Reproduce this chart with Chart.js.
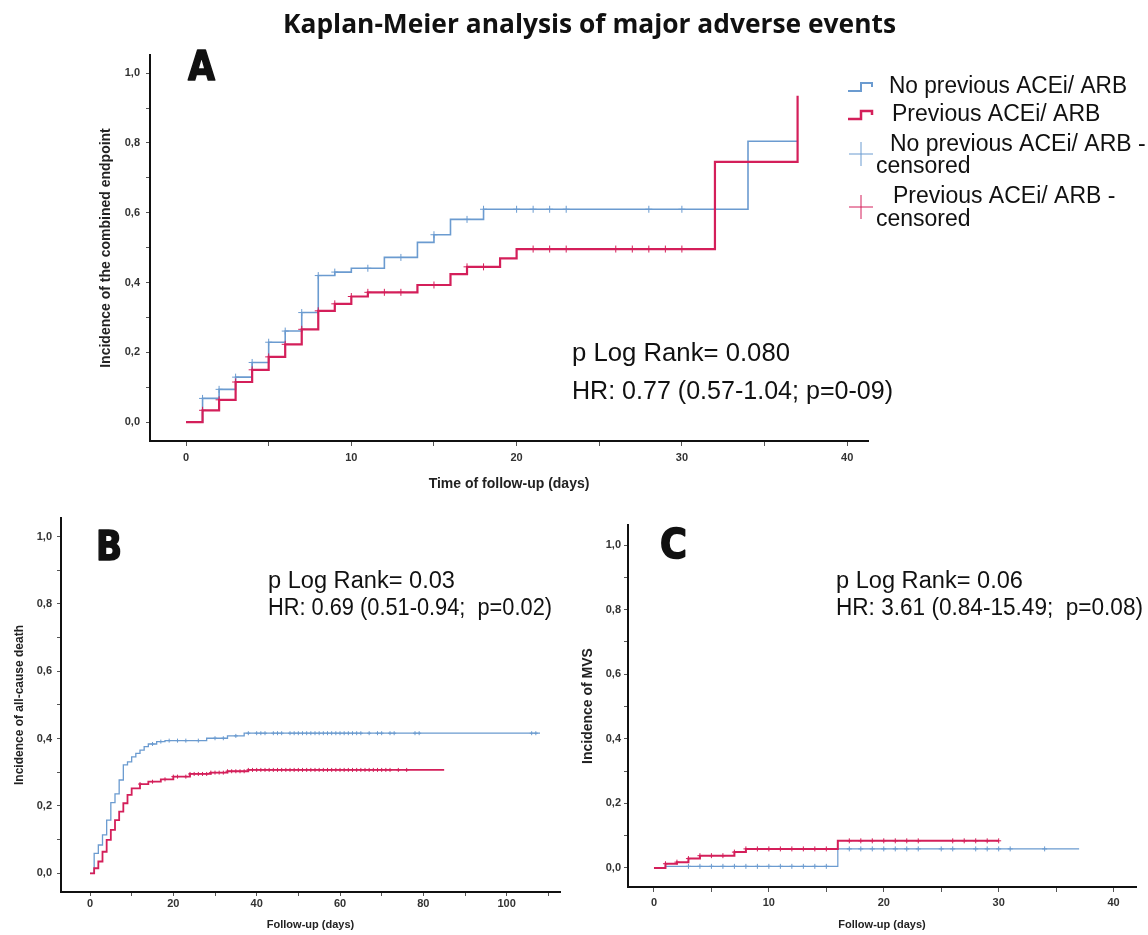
<!DOCTYPE html>
<html>
<head>
<meta charset="utf-8">
<title>Kaplan-Meier analysis of major adverse events</title>
<script src="https://cdn.jsdelivr.net/npm/chart.js@4.4.1/dist/chart.umd.min.js"></script>
<style>
    html, body { margin: 0; padding: 0; background: #fff; }
    body { width: 1148px; height: 935px; position: relative; overflow: hidden; }
    .panel { position: absolute; }
</style>
</head>
<body>
<div class="panel" style="left:0;top:0"><canvas id="chartA" width="1148" height="505"></canvas></div>
<div class="panel" style="left:0;top:480px"><canvas id="chartB" width="575" height="455"></canvas></div>
<div class="panel" style="left:565px;top:480px"><canvas id="chartC" width="583" height="455"></canvas></div>
<script>
// ---- Panel A: combined endpoint (days, cumulative incidence) ----
const aTimeNoPrev = [0, 1, 2, 3, 4, 5, 6, 7, 8, 9, 10, 12, 14, 15, 16, 18, 34, 37];
const aIncNoPrev  = [0, 0.068, 0.094, 0.129, 0.171, 0.229, 0.261, 0.314, 0.42, 0.43, 0.441, 0.472, 0.515, 0.537, 0.581, 0.61, 0.805, 0.805];
const aTimePrev   = [0, 1, 2, 3, 4, 5, 6, 7, 8, 9, 10, 11, 14, 16, 17, 19, 20, 32, 37];
const aIncPrev    = [0, 0.034, 0.064, 0.115, 0.15, 0.187, 0.223, 0.266, 0.319, 0.339, 0.36, 0.372, 0.393, 0.424, 0.445, 0.469, 0.496, 0.746, 0.935];
const aCensNoPrev = [1, 2, 3, 4, 5, 6, 7, 8, 9, 11, 13, 15, 17, 18, 20, 21, 22, 23, 28, 30];
const aCensPrev   = [1, 2, 3, 4, 5, 6, 7, 8, 9, 10, 11, 12, 13, 15, 17, 18, 21, 22, 23, 26, 27, 28, 29, 30];

// ---- Panel B: all-cause death ----
const bTimeNoPrev = [0, 1, 2, 3, 4, 5, 6, 7, 8, 9, 10, 11, 12, 13, 14, 16, 18, 28, 33, 37, 108];
const bIncNoPrev  = [0, 0.059, 0.084, 0.114, 0.158, 0.21, 0.236, 0.277, 0.322, 0.331, 0.346, 0.356, 0.366, 0.376, 0.384, 0.391, 0.394, 0.401, 0.408, 0.416, 0.416];
const bTimePrev   = [0, 1, 2, 3, 4, 5, 6, 7, 8, 9, 10, 12, 14, 17, 20, 24, 29, 33, 38, 85];
const bIncPrev    = [0, 0.015, 0.035, 0.064, 0.099, 0.129, 0.158, 0.183, 0.208, 0.233, 0.252, 0.265, 0.272, 0.279, 0.287, 0.295, 0.299, 0.303, 0.307, 0.307];
const bCensNoPrev = [15, 17, 19, 21, 23, 26, 30, 32, 35, 38, 40, 41, 42, 44, 45, 46, 48, 49, 50, 51, 52, 53, 54, 55, 56, 57, 58, 59, 60, 61, 62, 63, 64, 65, 67, 69, 70, 72, 73, 78, 79, 106, 107];
const bCensPrev   = [12, 15, 18, 20, 21, 23, 24, 25, 26, 27, 28, 29, 30, 31, 32, 33, 34, 35, 36, 37, 38, 39, 40, 41, 42, 43, 44, 45, 46, 47, 48, 49, 50, 51, 52, 53, 54, 55, 56, 57, 58, 59, 60, 61, 62, 63, 64, 65, 66, 67, 68, 69, 70, 71, 72, 74, 76];

// ---- Panel C: MVS ----
const cTimeNoPrev = [0, 1, 16, 37];
const cIncNoPrev  = [0, 0.005, 0.059, 0.059];
const cTimePrev   = [0, 1, 2, 3, 4, 7, 8, 16, 30];
const cIncPrev    = [0, 0.013, 0.018, 0.029, 0.038, 0.049, 0.059, 0.084, 0.084];
const cCensNoPrev = [3, 4, 5, 6, 7, 8, 9, 10, 11, 12, 13, 14, 15, 17, 18, 19, 20, 21, 22, 23, 25, 26, 28, 29, 30, 31, 34];
const cCensPrev   = [1, 2, 3, 4, 5, 6, 7, 8, 9, 10, 11, 12, 13, 14, 15, 17, 18, 19, 20, 21, 22, 23, 26, 27, 28, 29, 30];

// ---- Axis ticks ----
const yTicks     = [0, 0.1, 0.2, 0.3, 0.4, 0.5, 0.6, 0.7, 0.8, 0.9, 1.0];
const yLabels    = [0, 0.2, 0.4, 0.6, 0.8, 1.0];
const x40Ticks   = [0, 5, 10, 15, 20, 25, 30, 35, 40];
const x40Labels  = [0, 10, 20, 30, 40];
const x110Ticks  = [0, 10, 20, 30, 40, 50, 60, 70, 80, 90, 100, 110];
const x110Labels = [0, 20, 40, 60, 80, 100];

const BLUE = '#6b9bd0';
const RED = '#d41f5a';
const SANS = "'Liberation Sans', Arial, sans-serif";
const LETTER = "bold 40px 'DejaVu Sans', sans-serif";

function stepPoints(times, values) {
    return times.map((t, i) => ({ x: t, y: values[i] }));
}

// censor marks sit on the curve: value of the step function at that day
function censorPoints(days, times, values) {
    return days.map(d => {
        let v = values[0];
        times.forEach((t, i) => { if (t <= d) v = values[i]; });
        return { x: d, y: v };
    });
}

function kmDatasets(s) {
    return [
        { data: stepPoints(s.tPrev, s.vPrev), showLine: true, stepped: 'before', borderColor: RED, borderWidth: s.redW, pointRadius: 0, fill: false },
        { data: censorPoints(s.cPrev, s.tPrev, s.vPrev), showLine: false, pointStyle: 'cross', pointRadius: s.crossR, borderColor: RED, borderWidth: 1 },
        { data: stepPoints(s.tNo, s.vNo), showLine: true, stepped: 'before', borderColor: BLUE, borderWidth: s.blueW, pointRadius: 0, fill: false },
        { data: censorPoints(s.cNo, s.tNo, s.vNo), showLine: false, pointStyle: 'cross', pointRadius: s.crossR, borderColor: BLUE, borderWidth: 1 }
    ];
}

function kmScales(o) {
    return {
        x: {
            type: 'linear',
            min: o.xMin,
            max: o.xMax,
            afterBuildTicks: s => { s.ticks = o.xTicks.map(v => ({ value: v })); },
            afterFit: s => { s.height = o.xBox; },
            grid: { drawOnChartArea: false, drawTicks: true, tickLength: o.xTickLen, color: '#555' },
            border: { display: true, color: '#111', width: 2 },
            ticks: {
                autoSkip: false, maxRotation: 0, padding: o.xTickPad, color: '#333',
                font: { family: SANS, size: 11, weight: 'bold' },
                callback: v => o.xLabels.includes(v) ? String(v) : ''
            },
            title: {
                display: true, text: o.xTitle, color: '#222',
                font: { family: SANS, size: o.xTitleSize, weight: 'bold' },
                padding: { top: 0, bottom: o.xTitlePad }
            }
        },
        y: {
            type: 'linear',
            min: o.yMin,
            max: o.yMax,
            afterBuildTicks: s => { s.ticks = yTicks.map(v => ({ value: v })); },
            afterFit: s => { s.width = o.yBox; },
            grid: { drawOnChartArea: false, drawTicks: true, tickLength: 4, color: '#555' },
            border: { display: true, color: '#111', width: 2 },
            ticks: {
                autoSkip: false, padding: o.yTickPad, color: '#333',
                font: { family: SANS, size: 11, weight: 'bold' },
                callback: v => yLabels.some(l => Math.abs(l - v) < 1e-9) ? v.toFixed(1).replace('.', ',') : ''
            },
            title: {
                display: true, text: o.yTitle, color: '#222',
                font: { family: SANS, size: o.yTitleSize, weight: 'bold' },
                padding: { top: o.yTitlePad, bottom: 0 }
            }
        }
    };
}

// Draws panel letters, statistics, title and legend on the canvas
function overlayPlugin(items, icons) {
    return {
        id: 'overlay',
        afterDraw(chart) {
            const ctx = chart.ctx;
            ctx.save();
            ctx.textBaseline = 'middle';
            ctx.textAlign = 'left';
            items.forEach(it => {
                ctx.font = it.font;
                ctx.fillStyle = it.color || '#111';
                const w = ctx.measureText(it.text).width;
                ctx.save();
                ctx.translate(it.x, it.y);
                ctx.scale(it.width ? it.width / w : 1, 1);
                ctx.fillText(it.text, 0, 0);
                if (it.stroke) {
                    ctx.strokeStyle = ctx.fillStyle;
                    ctx.lineWidth = it.stroke;
                    ctx.lineJoin = 'round';
                    ctx.strokeText(it.text, 0, 0);
                }
                ctx.restore();
            });
            icons.forEach(ic => {
                ctx.strokeStyle = ic.color;
                ctx.lineWidth = ic.lw;
                ctx.beginPath();
                ic.path.forEach((p, i) => i ? ctx.lineTo(p[0], p[1]) : ctx.moveTo(p[0], p[1]));
                ctx.stroke();
            });
            ctx.restore();
        }
    };
}

const baseOptions = {
    responsive: false,
    animation: false,
    events: [],
    plugins: { legend: { display: false }, tooltip: { enabled: false } }
};

// Panel A
const chartA = new Chart(document.getElementById('chartA').getContext('2d'), {
    type: 'scatter',
    data: {
        datasets: kmDatasets({
            tPrev: aTimePrev, vPrev: aIncPrev, cPrev: aCensPrev,
            tNo: aTimeNoPrev, vNo: aIncNoPrev, cNo: aCensNoPrev,
            redW: 2.2, blueW: 1.6, crossR: 3.5
        })
    },
    options: {
        ...baseOptions,
        layout: { padding: { left: 90, top: 55, right: 280, bottom: 9 } },
        scales: kmScales({
            xMin: -2.18, xMax: 41.26, xTicks: x40Ticks, xLabels: x40Labels, xBox: 55, xTickLen: 5, xTickPad: 5,
            xTitle: 'Time of follow-up (days)', xTitleSize: 14, xTitlePad: 3,
            yMin: -0.054, yMax: 1.052, yBox: 60, yTickPad: 6,
            yTitle: 'Incidence of the combined endpoint', yTitleSize: 14, yTitlePad: 8
        })
    },
    plugins: [overlayPlugin([
        { text: 'Kaplan-Meier analysis of major adverse events', x: 283, y: 25, width: 613, font: "bold 27px 'Open Sans', sans-serif" },
        { text: 'A', x: 188, y: 70, width: 27, stroke: 1.6, font: LETTER },
        { text: 'p Log Rank= 0.080', x: 572, y: 354, width: 218, font: '25px ' + SANS },
        { text: 'HR: 0.77 (0.57-1.04; p=0-09)', x: 572, y: 392, width: 321, font: '25px ' + SANS },
        { text: 'No previous ACEi/ ARB', x: 889, y: 87, width: 238, font: '23px ' + SANS },
        { text: 'Previous ACEi/ ARB', x: 892, y: 115, font: '23px ' + SANS },
        { text: 'No previous ACEi/ ARB -', x: 890, y: 145, font: '23px ' + SANS },
        { text: 'censored', x: 876, y: 167, font: '23px ' + SANS },
        { text: 'Previous ACEi/ ARB -', x: 893, y: 197, font: '23px ' + SANS },
        { text: 'censored', x: 876, y: 220, font: '23px ' + SANS }
    ], [
        { color: BLUE, lw: 2, path: [[848, 91], [861, 91], [861, 83], [872, 83], [872, 87]] },
        { color: RED, lw: 2.5, path: [[848, 119], [861, 119], [861, 111], [872, 111], [872, 115]] },
        { color: BLUE, lw: 1, path: [[849, 154], [873, 154]] },
        { color: BLUE, lw: 1, path: [[861, 142], [861, 166]] },
        { color: RED, lw: 1, path: [[849, 207], [873, 207]] },
        { color: RED, lw: 1, path: [[861, 195], [861, 219]] }
    ])]
});

// Panel B
const chartB = new Chart(document.getElementById('chartB').getContext('2d'), {
    type: 'scatter',
    data: {
        datasets: kmDatasets({
            tPrev: bTimePrev, vPrev: bIncPrev, cPrev: bCensPrev,
            tNo: bTimeNoPrev, vNo: bIncNoPrev, cNo: bCensNoPrev,
            redW: 1.8, blueW: 1.3, crossR: 2
        })
    },
    options: {
        ...baseOptions,
        layout: { padding: { left: 6, top: 38, right: 15, bottom: 3 } },
        scales: kmScales({
            xMin: -6.96, xMax: 112.8, xTicks: x110Ticks, xLabels: x110Labels, xBox: 40, xTickLen: 4, xTickPad: 1,
            xTitle: 'Follow-up (days)', xTitleSize: 11, xTitlePad: 0,
            yMin: -0.0555, yMax: 1.055, yBox: 55, yTickPad: 5,
            yTitle: 'Incidence of all-cause death', yTitleSize: 12, yTitlePad: 6
        })
    },
    plugins: [overlayPlugin([
        { text: 'B', x: 96, y: 70, width: 26, stroke: 1.6, font: LETTER },
        { text: 'p Log Rank= 0.03', x: 268, y: 102, width: 187, font: '23px ' + SANS },
        { text: 'HR: 0.69 (0.51-0.94;  p=0.02)', x: 268, y: 129, width: 284, font: '23px ' + SANS }
    ], [])]
});

// Panel C
const chartC = new Chart(document.getElementById('chartC').getContext('2d'), {
    type: 'scatter',
    data: {
        datasets: kmDatasets({
            tPrev: cTimePrev, vPrev: cIncPrev, cPrev: cCensPrev,
            tNo: cTimeNoPrev, vNo: cIncNoPrev, cNo: cCensNoPrev,
            redW: 2, blueW: 1.2, crossR: 2.5
        })
    },
    options: {
        ...baseOptions,
        layout: { padding: { left: 13, top: 45, right: 12, bottom: 3 } },
        scales: kmScales({
            xMin: -2.26, xMax: 41.95, xTicks: x40Ticks, xLabels: x40Labels, xBox: 45, xTickLen: 5, xTickPad: 4,
            xTitle: 'Follow-up (days)', xTitleSize: 11, xTitlePad: 0,
            yMin: -0.059, yMax: 1.062, yBox: 50, yTickPad: 3,
            yTitle: 'Incidence of MVS', yTitleSize: 14, yTitlePad: 2
        })
    },
    plugins: [overlayPlugin([
        { text: 'C', x: 95, y: 68, width: 27, stroke: 1.6, font: LETTER },
        { text: 'p Log Rank= 0.06', x: 271, y: 102, width: 187, font: '23px ' + SANS },
        { text: 'HR: 3.61 (0.84-15.49;  p=0.08)', x: 271, y: 129, width: 307, font: '23px ' + SANS }
    ], [])]
});
</script>
</body>
</html>
